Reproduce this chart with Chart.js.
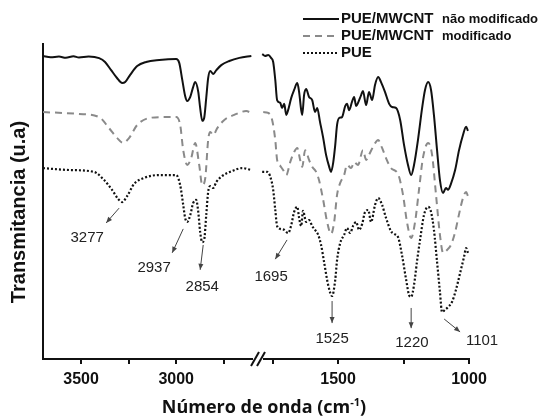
<!DOCTYPE html>
<html>
<head>
<meta charset="utf-8">
<script src="https://cdn.jsdelivr.net/npm/chart.js@4"></script>
<style>
  body { margin: 0; background: #fff; }
  #wrap { width: 542px; height: 417px; }
</style>
</head>
<body>
<div id="wrap"><canvas id="espectro" width="542" height="417"></canvas></div>
<script>
// PUE/MWCNT não modificado
const naoModEsqX = [3700, 3660, 3616, 3580, 3540, 3511, 3460, 3405, 3374, 3342, 3311, 3284, 3268, 3242, 3205, 3158, 3089, 3000, 2984, 2968, 2953, 2942, 2926, 2911, 2900, 2884, 2874, 2863, 2853, 2842, 2832, 2821, 2805, 2789, 2763, 2721, 2668, 2605];
const naoModEsqY = [96.2, 95.8, 96.0, 95.6, 96.1, 95.7, 96.0, 95.5, 94.3, 91.7, 89.2, 87.6, 87.9, 90.2, 93.0, 94.3, 94.9, 95.2, 94.0, 88.6, 83.5, 81.9, 83.2, 86.3, 87.9, 84.8, 79.7, 75.6, 76.5, 82.9, 89.2, 91.4, 90.5, 91.7, 93.3, 94.6, 95.6, 96.2];
const naoModDirX = [1790, 1779, 1767, 1756, 1748, 1740, 1733, 1721, 1714, 1706, 1698, 1691, 1679, 1668, 1656, 1649, 1641, 1637, 1630, 1622, 1611, 1599, 1588, 1580, 1569, 1557, 1546, 1534, 1527, 1519, 1511, 1504, 1496, 1485, 1473, 1466, 1458, 1447, 1439, 1431, 1424, 1412, 1405, 1393, 1382, 1370, 1359, 1347, 1336, 1321, 1305, 1294, 1279, 1263, 1248, 1233, 1221, 1210, 1195, 1179, 1168, 1156, 1145, 1134, 1122, 1111, 1099, 1088, 1080, 1069, 1053, 1038, 1023, 1011, 1004];
const naoModDirY = [96.8, 96.2, 96.5, 95.6, 94.3, 88.6, 82.2, 81.3, 79.7, 81.0, 77.5, 79.0, 82.9, 85.4, 87.6, 84.8, 79.0, 77.5, 83.8, 85.7, 83.2, 82.2, 78.4, 79.7, 75.2, 70.2, 64.8, 61.0, 59.4, 62.2, 67.9, 74.3, 76.5, 76.8, 80.3, 81.0, 79.0, 81.6, 83.2, 80.3, 81.3, 83.8, 85.1, 80.6, 84.8, 82.2, 87.0, 89.5, 87.9, 84.8, 81.0, 80.0, 79.7, 75.9, 67.9, 61.6, 58.4, 61.6, 69.5, 79.7, 85.4, 87.9, 85.4, 77.5, 66.3, 56.8, 52.7, 54.3, 53.7, 55.6, 60.0, 66.3, 71.1, 73.7, 72.4];

// PUE/MWCNT modificado
const modEsqX = [3700, 3511, 3405, 3353, 3311, 3279, 3247, 3205, 3142, 3063, 3000, 2979, 2963, 2942, 2921, 2900, 2879, 2863, 2847, 2832, 2821, 2805, 2784, 2747, 2695, 2632, 2605];
const modEsqY = [78.4, 77.8, 76.8, 73.3, 70.2, 68.6, 70.2, 74.3, 76.5, 76.8, 76.8, 74.3, 66.3, 61.6, 63.8, 68.6, 61.6, 55.2, 57.5, 69.5, 72.1, 71.1, 73.3, 75.9, 77.5, 78.7, 78.1];
const modDirX = [1786, 1767, 1752, 1740, 1733, 1721, 1710, 1698, 1683, 1668, 1656, 1645, 1637, 1626, 1611, 1599, 1584, 1573, 1557, 1542, 1527, 1515, 1504, 1492, 1477, 1466, 1450, 1439, 1424, 1405, 1393, 1382, 1363, 1347, 1332, 1317, 1298, 1271, 1252, 1237, 1221, 1206, 1191, 1176, 1156, 1141, 1126, 1111, 1099, 1084, 1069, 1053, 1038, 1023, 1011, 1004];
const modDirY = [78.4, 78.1, 75.9, 69.5, 63.2, 61.3, 60.0, 58.4, 62.5, 65.7, 67.0, 63.2, 61.0, 66.3, 63.2, 61.0, 59.4, 56.8, 50.5, 43.5, 39.7, 43.5, 52.1, 55.9, 58.4, 61.6, 60.6, 62.5, 61.6, 66.3, 63.2, 64.8, 67.9, 69.5, 67.0, 63.8, 60.6, 58.7, 52.1, 43.5, 38.4, 43.5, 53.7, 63.8, 68.6, 64.8, 52.1, 39.4, 33.7, 34.6, 36.2, 40.3, 46.0, 51.1, 53.0, 51.7];

// PUE
const pueEsqX = [3700, 3563, 3432, 3379, 3337, 3305, 3284, 3258, 3221, 3168, 3089, 3000, 2979, 2963, 2953, 2942, 2926, 2911, 2895, 2884, 2874, 2863, 2853, 2842, 2832, 2821, 2805, 2789, 2758, 2705, 2653, 2605];
const pueEsqY = [60.6, 60.0, 59.4, 56.8, 53.7, 50.8, 49.8, 51.7, 55.6, 57.5, 58.4, 58.4, 55.2, 48.9, 44.8, 43.5, 45.7, 49.5, 50.5, 46.7, 40.3, 37.1, 37.8, 45.7, 53.0, 54.9, 54.3, 56.2, 58.1, 59.7, 60.6, 60.0];
const pueDirX = [1790, 1771, 1760, 1748, 1740, 1733, 1721, 1706, 1691, 1679, 1668, 1656, 1649, 1641, 1634, 1622, 1611, 1599, 1588, 1576, 1565, 1553, 1538, 1523, 1511, 1504, 1492, 1477, 1466, 1454, 1443, 1431, 1420, 1408, 1397, 1385, 1374, 1359, 1347, 1332, 1317, 1298, 1286, 1271, 1256, 1240, 1229, 1221, 1210, 1198, 1187, 1172, 1156, 1145, 1134, 1122, 1111, 1103, 1092, 1080, 1065, 1050, 1034, 1019, 1011, 1004];
const pueDirY = [59.4, 59.4, 58.1, 53.7, 47.3, 42.2, 41.3, 41.0, 40.0, 42.5, 46.7, 48.3, 44.8, 42.2, 47.0, 43.5, 44.1, 42.2, 41.0, 39.4, 36.2, 30.5, 23.5, 20.0, 25.1, 31.4, 36.8, 39.4, 41.6, 40.0, 42.2, 43.5, 41.0, 42.9, 46.7, 47.3, 43.5, 48.9, 51.1, 48.9, 44.8, 40.6, 39.7, 38.7, 33.0, 25.1, 20.3, 19.7, 23.5, 31.4, 37.8, 45.7, 48.3, 46.7, 41.0, 30.8, 21.3, 14.9, 15.6, 16.5, 18.1, 21.9, 27.3, 32.4, 35.2, 33.7];

// Ticks dos dois trechos do eixo x (eixo quebrado)
const ticksEsq = [3500, 3250, 3000, 2750];
const ticksDir = [1750, 1500, 1250, 1000];
const ticksRotulados = [3500, 3000, 1500, 1000];

// Picos marcados com setas: rótulo (x, y) e seta (de -> até), em unidades do gráfico
const picos = [
  { txt: '3277', eixo: 'xL', rot: [3468, 38.4], de: [3300, 47.9], ate: [3368, 43.2] },
  { txt: '2937', eixo: 'xL', rot: [3116, 28.9], de: [2963, 41.3], ate: [3021, 33.7] },
  { txt: '2854', eixo: 'xL', rot: [2863, 22.9], de: [2858, 36.2], ate: [2874, 28.3] },
  { txt: '1695', eixo: 'xR', rot: [1756, 26.0], de: [1695, 37.8], ate: [1740, 31.7] },
  { txt: '1525', eixo: 'xR', rot: [1523, 6.3], de: [1523, 18.4], ate: [1523, 11.4] },
  { txt: '1220', eixo: 'xR', rot: [1218, 5.1], de: [1221, 16.2], ate: [1221, 9.8] },
  { txt: '1101', eixo: 'xR', rot: [950, 5.7], de: [1095, 12.7], ate: [1034, 8.6] }
];

function serie(xs, ys) {
  return xs.map((x, i) => ({ x: x, y: ys[i] }));
}

const estiloNaoMod = { borderColor: '#111', borderWidth: 2 };
const estiloMod = { borderColor: '#8a8a8a', borderWidth: 2, borderDash: [7, 5] };
const estiloPue = { borderColor: '#111', borderWidth: 2.2, borderDash: [2, 2] };

const datasets = [
  Object.assign({ label: 'PUE/MWCNT não modificado', data: serie(naoModEsqX, naoModEsqY), xAxisID: 'xL' }, estiloNaoMod),
  Object.assign({ label: 'PUE/MWCNT não modificado', data: serie(naoModDirX, naoModDirY), xAxisID: 'xR' }, estiloNaoMod),
  Object.assign({ label: 'PUE/MWCNT modificado', data: serie(modEsqX, modEsqY), xAxisID: 'xL' }, estiloMod),
  Object.assign({ label: 'PUE/MWCNT modificado', data: serie(modDirX, modDirY), xAxisID: 'xR' }, estiloMod),
  Object.assign({ label: 'PUE', data: serie(pueEsqX, pueEsqY), xAxisID: 'xL' }, estiloPue),
  Object.assign({ label: 'PUE', data: serie(pueDirX, pueDirY), xAxisID: 'xR' }, estiloPue)
];

const fonteTick = { family: 'Liberation Sans', size: 16, weight: 'bold' };

function eixoX(min, max, ticks, peso) {
  return {
    type: 'linear',
    position: 'bottom',
    stack: 'onda',
    stackWeight: peso,
    min: min,
    max: max,
    reverse: true,
    afterBuildTicks: (s) => { s.ticks = ticks.map(v => ({ value: v })); },
    afterFit: (s) => { s.height = 58; },
    border: { display: true, color: '#111', width: 2 },
    grid: { display: true, drawOnChartArea: false, drawTicks: true, tickLength: 5, color: '#111', lineWidth: 2 },
    ticks: {
      color: '#111',
      font: fonteTick,
      padding: 6,
      maxRotation: 0,
      autoSkip: false,
      callback: (v) => ticksRotulados.includes(v) ? String(v) : ''
    }
  };
}

// Desenha quebra do eixo, setas, legenda e títulos dos eixos
const extras = {
  id: 'extras',
  afterDraw(chart) {
    const ctx = chart.ctx;
    const y = chart.scales.y;
    const area = chart.chartArea;
    ctx.save();

    // quebra "//" no eixo x
    const xq = chart.scales.xL.right;
    const yb = area.bottom;
    ctx.fillStyle = '#fff';
    ctx.fillRect(xq - 5, yb - 3, 10, 6);
    ctx.strokeStyle = '#111';
    ctx.lineWidth = 2;
    [-3, 3].forEach(d => {
      ctx.beginPath();
      ctx.moveTo(xq + d - 4, yb + 7);
      ctx.lineTo(xq + d + 4, yb - 7);
      ctx.stroke();
    });

    // setas e números dos picos
    ctx.font = '15px "Liberation Sans"';
    ctx.textAlign = 'center';
    ctx.textBaseline = 'middle';
    picos.forEach(p => {
      const sx = chart.scales[p.eixo];
      const x0 = sx.getPixelForValue(p.de[0]), y0 = y.getPixelForValue(p.de[1]);
      const x1 = sx.getPixelForValue(p.ate[0]), y1 = y.getPixelForValue(p.ate[1]);
      ctx.strokeStyle = '#444';
      ctx.fillStyle = '#444';
      ctx.lineWidth = 1;
      ctx.beginPath();
      ctx.moveTo(x0, y0);
      ctx.lineTo(x1, y1);
      ctx.stroke();
      const ang = Math.atan2(y1 - y0, x1 - x0);
      ctx.beginPath();
      ctx.moveTo(x1, y1);
      ctx.lineTo(x1 - 6 * Math.cos(ang) + 2.5 * Math.sin(ang), y1 - 6 * Math.sin(ang) - 2.5 * Math.cos(ang));
      ctx.lineTo(x1 - 6 * Math.cos(ang) - 2.5 * Math.sin(ang), y1 - 6 * Math.sin(ang) + 2.5 * Math.cos(ang));
      ctx.closePath();
      ctx.fill();
      ctx.fillStyle = '#222';
      ctx.fillText(p.txt, sx.getPixelForValue(p.rot[0]), y.getPixelForValue(p.rot[1]));
    });

    // legenda
    const itens = [
      { a: 'PUE/MWCNT', b: 'não modificado', cor: '#111', dash: [] },
      { a: 'PUE/MWCNT', b: 'modificado', cor: '#8a8a8a', dash: [7, 5] },
      { a: 'PUE', b: '', cor: '#111', dash: [2, 2] }
    ];
    itens.forEach((it, i) => {
      const ly = 19 + i * 17;
      ctx.strokeStyle = it.cor;
      ctx.lineWidth = 2;
      ctx.setLineDash(it.dash);
      ctx.beginPath();
      ctx.moveTo(303, ly);
      ctx.lineTo(339, ly);
      ctx.stroke();
      ctx.setLineDash([]);
      ctx.fillStyle = '#111';
      ctx.textAlign = 'left';
      ctx.font = 'bold 15px "Liberation Sans"';
      ctx.fillText(it.a, 341, ly);
      if (it.b) {
        ctx.font = 'bold 13px "Liberation Sans"';
        ctx.fillText(it.b, 442, ly);
      }
    });

    // título do eixo y
    ctx.save();
    ctx.translate(19, 212);
    ctx.rotate(-Math.PI / 2);
    ctx.font = 'bold 20px "Liberation Sans"';
    ctx.textAlign = 'center';
    ctx.fillStyle = '#111';
    ctx.fillText('Transmitancia (u.a)', 0, 0);
    ctx.restore();

    // título do eixo x com expoente
    const t1 = 'Número de onda (cm', sup = '-1', t2 = ')';
    const fN = 'bold 18px "Open Sans"', fS = 'bold 11px "Open Sans"';
    ctx.textBaseline = 'alphabetic';
    ctx.textAlign = 'left';
    ctx.font = fN;
    const w1 = ctx.measureText(t1).width, w3 = ctx.measureText(t2).width;
    ctx.font = fS;
    const w2 = ctx.measureText(sup).width;
    let tx = 264 - (w1 + w2 + w3) / 2;
    const by = 413;
    ctx.font = fN;
    ctx.fillText(t1, tx, by);
    tx += w1;
    ctx.font = fS;
    ctx.fillText(sup, tx, by - 7);
    tx += w2;
    ctx.font = fN;
    ctx.fillText(t2, tx, by);

    ctx.restore();
  }
};

new Chart(document.getElementById('espectro'), {
  type: 'line',
  data: { datasets: datasets },
  options: {
    responsive: false,
    animation: false,
    layout: { padding: { top: 44, right: 73, bottom: 0, left: 0 } },
    elements: { point: { radius: 0 }, line: { cubicInterpolationMode: 'monotone' } },
    plugins: { legend: { display: false }, tooltip: { enabled: false } },
    scales: {
      xL: eixoX(2570, 3700, ticksEsq, 215),
      xR: eixoX(1000, 1806, ticksDir, 211),
      y: {
        type: 'linear',
        min: 0,
        max: 100,
        afterFit: (s) => { s.width = 43; },
        border: { display: true, color: '#111', width: 2 },
        grid: { display: false },
        ticks: { display: false }
      }
    }
  },
  plugins: [extras]
});
</script>
</body>
</html>
